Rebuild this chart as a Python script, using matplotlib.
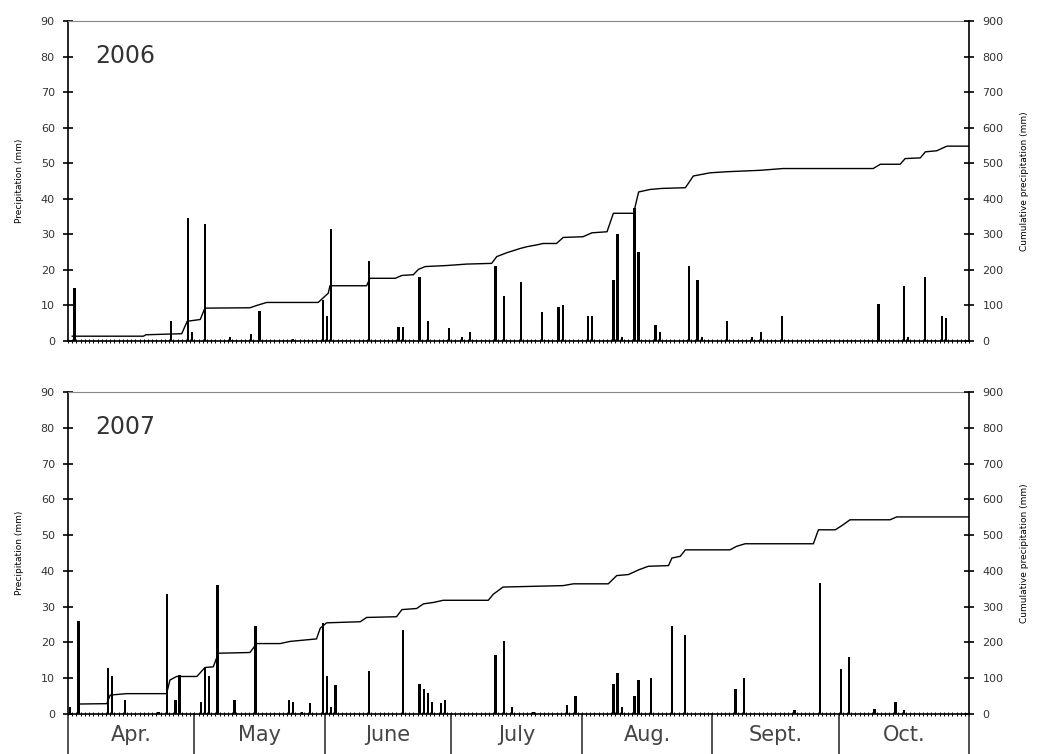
import matplotlib
matplotlib.use('Agg')
import matplotlib.pyplot as plt
import matplotlib.transforms as mtransforms
import numpy as np

plt.rcParams['font.family'] = ['DejaVu Sans']

# months shown under the lower panel
months = ['Apr.', 'May', 'June', 'July', 'Aug.', 'Sept.', 'Oct.']
month_days = [30, 31, 30, 31, 31, 30, 31]

# 2006 daily precipitation (day index from 1 April, mm)
rain06_day = [1, 24, 28, 29, 32, 38, 43, 45, 53, 60, 61, 62, 71, 78, 79, 83, 85, 90,
              93, 95, 101, 103, 107, 112, 116, 117, 123, 124, 129, 130, 131, 134, 135,
              139, 140, 147, 149, 150, 156, 162, 164, 169, 192, 198, 199, 203, 207, 208]
rain06_mm = [15, 5.5, 34.5, 2.5, 33, 1, 2, 8.5, 0.5, 11.5, 7, 31.5, 22.5, 4, 4, 18, 5.5, 3.5,
             1, 2.5, 21, 12.5, 16.5, 8, 9.5, 10, 7, 7, 17, 30, 1, 37.5, 25,
             4.5, 2.5, 21, 17, 1, 5.5, 1, 2.5, 7, 10.5, 15.5, 1, 18, 7, 6.5]

# 2006 cumulative precipitation
cum06_day = [1, 17.9, 18.5, 27, 28.3, 31.4, 32.5, 43.2, 45.2, 47.2, 59.4, 61.8, 62.2, 70.9,
             71.7, 77.7, 79.3, 82, 83.2, 84.8, 90, 94.7, 100.6, 101.8, 104.2, 107.4, 109,
             111.3, 112.8, 116, 117.6, 122.3, 124.4, 128, 129.5, 134.3, 135.5, 138.2, 141,
             146.6, 148.5, 152.5, 156.5, 164.4, 169.8, 191.2, 192.9, 197.6, 198.8, 202.4,
             203.6, 206.3, 208.7, 214]
cum06_mm = [13, 13, 17, 20, 55, 60, 92, 93, 101, 108, 108, 134, 155, 155,
            176, 176, 184, 186, 201, 209, 212, 216, 218, 237, 248, 260, 265,
            270, 274, 274, 291, 293, 304, 307, 359, 359, 419, 426, 429,
            431, 464, 473, 476, 480, 485, 485, 497, 497, 513, 515,
            532, 535, 548, 548]

# 2007 daily precipitation
rain07_day = [0, 2, 9, 10, 13, 21, 23, 25, 26, 31, 32, 33, 35, 39, 44, 52, 53, 55, 57,
              60, 61, 62, 63, 71, 79, 83, 84, 85, 86, 88, 89, 101, 103, 105, 110, 118,
              120, 129, 130, 131, 134, 135, 138, 143, 146, 158, 160, 172, 178, 183, 185,
              191, 196, 198]
rain07_mm = [2, 26, 13, 10.5, 4, 0.5, 33.5, 4, 11, 3.5, 13, 10.5, 36, 4, 24.5, 4, 3.5, 0.5, 3,
             25.5, 10.5, 2, 8, 12, 23.5, 8.5, 7, 6, 3.5, 3, 4, 16.5, 20.5, 2, 0.5, 2.5,
             5, 8.5, 11.5, 2, 5, 9.5, 10, 24.5, 22, 7, 10, 1, 36.5, 12.5, 16,
             1.5, 3.5, 1]

# 2007 cumulative precipitation
cum07_day = [2.5, 9.2, 10, 13.9, 23.4, 24.2, 25.8, 30.6, 32.5, 34.5, 35.7, 43.2, 44.8, 50.4,
             52.7, 59, 59.9, 61.4, 69.4, 70.9, 78, 79.3, 82.8, 84.4, 86.8, 89.1, 99.8, 101,
             103.3, 117.6, 120, 128.3, 130.3, 133.1, 135.5, 137.8, 142.6, 143.4, 145.4,
             146.6, 157.2, 158.8, 160.8, 177, 178.2, 182.2, 183.8, 185.7, 195.2, 196.8, 214]
cum07_mm = [28, 29, 53, 57, 57, 95, 105, 105, 130, 132, 170, 172, 197, 197,
            203, 210, 240, 255, 258, 270, 272, 292, 295, 308, 312, 318, 318, 335,
            355, 359, 364, 364, 387, 390, 403, 413, 415, 436, 441,
            459, 459, 469, 476, 476, 515, 515, 527, 543, 543, 551, 551]

ndays = sum(month_days)


def panel(ax, day, mm, cday, cmm, year):
    ax.bar(np.array(day) + 0.5, mm, width=0.55, color='black', zorder=2)
    ax.set_xlim(0, ndays)
    ax.set_ylim(0, 90)
    ax.set_yticks(np.arange(0, 91, 10))
    ax.set_xticks([])
    ax.set_xticks(np.arange(0, ndays + 1), minor=True)
    ax.tick_params(axis='x', which='minor', direction='inout', length=3.5, width=0.7)
    ax.tick_params(axis='y', direction='inout', length=7, width=1.2, pad=6,
                   labelsize=8, labelcolor='#333')
    ax.set_ylabel('Precipitation (mm)', fontsize=6.5, labelpad=12)
    ax.spines['top'].set_color('#888')
    ax.spines['right'].set_visible(False)
    ax.spines['left'].set_linewidth(1.2)
    ax.spines['bottom'].set_linewidth(1.2)
    ax.text(0.03, 0.89, year, transform=ax.transAxes, fontsize=17, color='#333', va='center')

    tw = ax.twinx()
    tw.plot(cday, cmm, color='black', lw=1)
    tw.set_ylim(0, 900)
    tw.set_yticks(np.arange(0, 901, 100))
    tw.tick_params(axis='y', direction='inout', length=7, width=1.2, pad=6,
                   labelsize=8, labelcolor='#333')
    tw.set_ylabel('Cumulative precipitation (mm)', fontsize=6.5, labelpad=12)
    tw.spines['top'].set_visible(False)
    tw.spines['left'].set_visible(False)
    tw.spines['bottom'].set_visible(False)
    tw.spines['right'].set_linewidth(1.2)
    return tw


fig = plt.figure(figsize=(10.37, 7.54), dpi=100)
ax1 = fig.add_axes([0.0656, 0.548, 0.869, 0.424])
ax2 = fig.add_axes([0.0656, 0.053, 0.869, 0.427])

panel(ax1, rain06_day, rain06_mm, cum06_day, cum06_mm, '2006')
panel(ax2, rain07_day, rain07_mm, cum07_day, cum07_mm, '2007')

# month boxes under the lower panel
trans = mtransforms.blended_transform_factory(ax2.transData, ax2.transAxes)
edges = np.concatenate([[0], np.cumsum(month_days)])
for e in edges:
    ax2.plot([e, e], [0, -0.14], color='#333', lw=1.2, transform=trans, clip_on=False)
for i, m in enumerate(months):
    ax2.text((edges[i] + edges[i + 1]) / 2, -0.065, m, transform=trans, ha='center',
             va='center', fontsize=15, color='#444')

fig.savefig('out.png', dpi=100)
